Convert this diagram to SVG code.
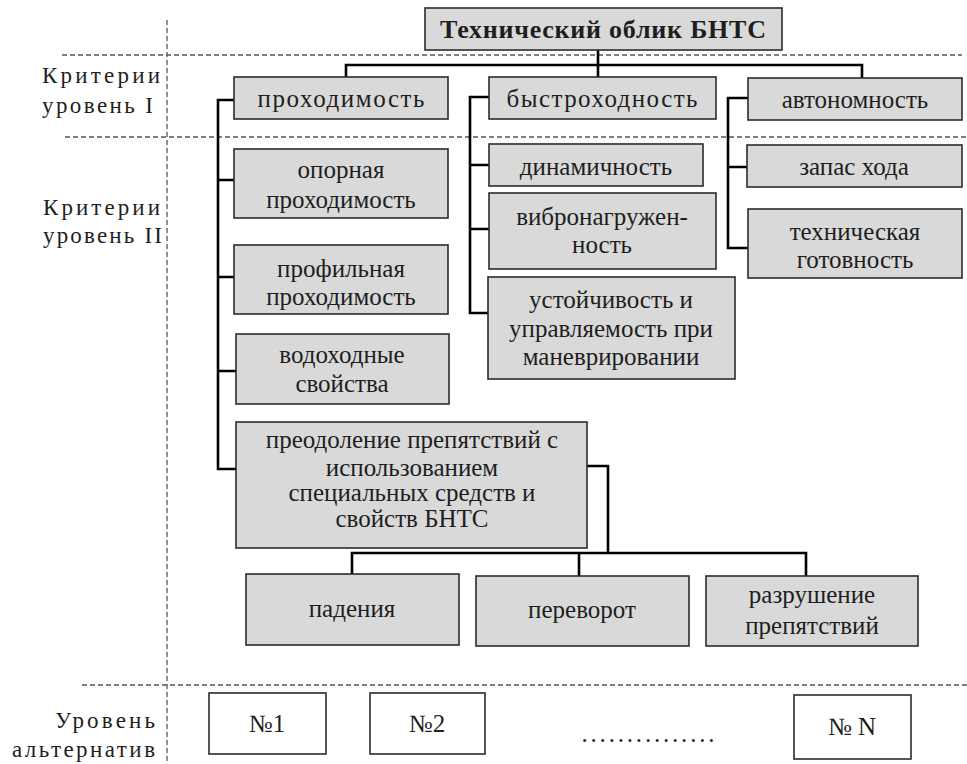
<svg xmlns="http://www.w3.org/2000/svg" width="967" height="764" viewBox="0 0 967 764">
<style>
  .box { fill: #d9d9d9; stroke: #2b2b2b; stroke-width: 1.6; }
  .alt { fill: #ffffff; stroke: #2b2b2b; stroke-width: 1.6; }
  text { font-family: "Liberation Serif", "DejaVu Serif", "Times New Roman", serif; fill: #1e1e1e; }
  .t { font-size: 25px; text-anchor: middle; }
  .side { font-size: 23px; }
  .title { font-size: 26px; font-weight: bold; text-anchor: middle; }
  .dash { stroke: #555555; stroke-width: 1.3; stroke-dasharray: 5 3; fill: none; }
  .conn { stroke: #000000; stroke-width: 2.6; fill: none; stroke-linejoin: miter; }
</style>

<g id="guides">
  <line class="dash" x1="167" y1="20" x2="167" y2="764"/>
  <line class="dash" x1="62" y1="55" x2="962" y2="55"/>
  <line class="dash" x1="65" y1="137" x2="967" y2="137"/>
  <line class="dash" x1="82" y1="685" x2="967" y2="685"/>
</g>

<g id="side-labels">
  <text class="side" x="42" y="83" textLength="118" lengthAdjust="spacing">Критерии</text>
  <text class="side" x="42" y="113" textLength="111" lengthAdjust="spacing">уровень I</text>
  <text class="side" x="43" y="215" textLength="117" lengthAdjust="spacing">Критерии</text>
  <text class="side" x="43" y="243" textLength="119" lengthAdjust="spacing">уровень II</text>
  <text class="side" x="55" y="728" textLength="100" lengthAdjust="spacing">Уровень</text>
  <text class="side" x="12" y="757" textLength="143" lengthAdjust="spacing">альтернатив</text>
</g>

<g id="connectors">
  <path class="conn" d="M598,50 V65 M346,77 V65 H862 V78 M598,65 V77"/>
  <path class="conn" d="M234,100 H218 V469 H236 M218,180 H234 M218,277 H234 M218,371 H236"/>
  <path class="conn" d="M489,97 H470 V313 H488 M470,165 H489 M470,229 H489"/>
  <path class="conn" d="M748,98 H728 V248 H748 M728,167 H747"/>
  <path class="conn" d="M587,466 H608 V553 M352,574 V553 H806 V576 M579,553 V576"/>
</g>

<g id="n-root">
  <rect class="box" x="425" y="8" width="357" height="42"/>
  <text class="title" x="603" y="38" textLength="326" lengthAdjust="spacing">Технический облик БНТС</text>
</g>

<g id="n-prohod">
  <rect class="box" x="234" y="77" width="214" height="42"/>
  <text class="t" x="341" y="107" textLength="167" lengthAdjust="spacing">проходимость</text>
</g>
<g id="n-bystr">
  <rect class="box" x="489" y="77" width="227" height="42"/>
  <text class="t" x="602" y="107" textLength="191" lengthAdjust="spacing">быстроходность</text>
</g>
<g id="n-avto">
  <rect class="box" x="748" y="78" width="214" height="42"/>
  <text class="t" x="855" y="108">автономность</text>
</g>

<g id="n-opor">
  <rect class="box" x="234" y="149" width="214" height="69"/>
  <text class="t" x="341" y="178">опорная</text>
  <text class="t" x="341" y="208">проходимость</text>
</g>
<g id="n-profil">
  <rect class="box" x="234" y="245" width="214" height="69"/>
  <text class="t" x="341" y="277">профильная</text>
  <text class="t" x="341" y="305">проходимость</text>
</g>
<g id="n-vodo">
  <rect class="box" x="236" y="334" width="213" height="70"/>
  <text class="t" x="342" y="363">водоходные</text>
  <text class="t" x="342" y="392">свойства</text>
</g>
<g id="n-preod">
  <rect class="box" x="236" y="422" width="351" height="126"/>
  <text class="t" x="412" y="448">преодоление препятствий  с</text>
  <text class="t" x="412" y="476">использованием</text>
  <text class="t" x="412" y="501">специальных средств и</text>
  <text class="t" x="412" y="527">свойств БНТС</text>
</g>

<g id="n-dinam">
  <rect class="box" x="489" y="144" width="214" height="42"/>
  <text class="t" x="596" y="175">динамичность</text>
</g>
<g id="n-vibro">
  <rect class="box" x="489" y="193" width="227" height="76"/>
  <text class="t" x="602" y="225">вибронагружен-</text>
  <text class="t" x="602" y="253">ность</text>
</g>
<g id="n-ustoi">
  <rect class="box" x="488" y="277" width="247" height="102"/>
  <text class="t" x="611" y="308">устойчивость и</text>
  <text class="t" x="611" y="337">управляемость при</text>
  <text class="t" x="611" y="365">маневрировании</text>
</g>

<g id="n-zapas">
  <rect class="box" x="747" y="145" width="215" height="42"/>
  <text class="t" x="854" y="175">запас хода</text>
</g>
<g id="n-tehgot">
  <rect class="box" x="748" y="209" width="214" height="69"/>
  <text class="t" x="855" y="240">техническая</text>
  <text class="t" x="855" y="268">готовность</text>
</g>

<g id="n-paden">
  <rect class="box" x="246" y="574" width="213" height="71"/>
  <text class="t" x="352" y="617">падения</text>
</g>
<g id="n-perev">
  <rect class="box" x="476" y="576" width="213" height="70"/>
  <text class="t" x="582" y="618">переворот</text>
</g>
<g id="n-razr">
  <rect class="box" x="706" y="576" width="212" height="70"/>
  <text class="t" x="812" y="603">разрушение</text>
  <text class="t" x="812" y="634">препятствий</text>
</g>

<g id="n-alt1">
  <rect class="alt" x="209" y="693" width="117" height="61"/>
  <text class="t" x="267" y="732">№1</text>
</g>
<g id="n-alt2">
  <rect class="alt" x="370" y="693" width="115" height="61"/>
  <text class="t" x="427" y="732">№2</text>
</g>
<g id="n-altN">
  <rect class="alt" x="794" y="695" width="117" height="64"/>
  <text class="t" x="852" y="735">№ N</text>
</g>
<g id="dots">
  <text class="t" x="648" y="742" textLength="133" lengthAdjust="spacing">...............</text>
</g>
</svg>
